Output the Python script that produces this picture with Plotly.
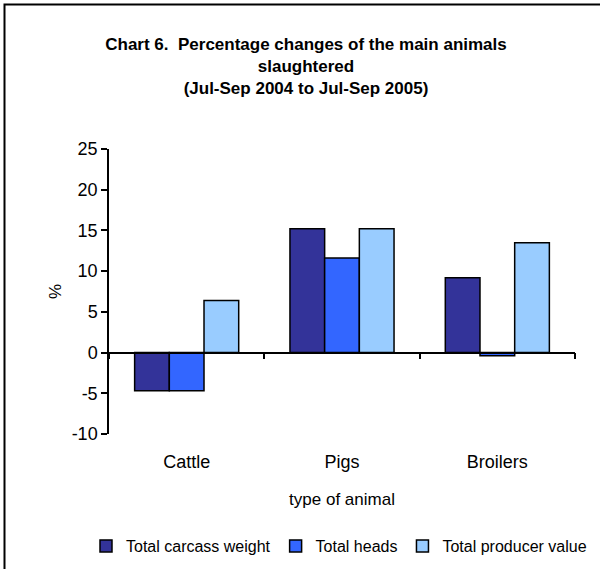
import plotly.graph_objects as go

categories = ["Cattle", "Pigs", "Broilers"]
carcass_weight = [-4.7, 15.2, 9.2]
total_heads = [-4.7, 11.6, -0.4]
producer_value = [6.4, 15.2, 13.5]
series_names = ["Total carcass weight", "Total heads", "Total producer value"]
colors = ["#333399", "#3366FF", "#99CCFF"]
y_ticks = [-10, -5, 0, 5, 10, 15, 20, 25]
y_tick_labels = ["-10", "-5", "0", "5", "10", "15", "20", "25"]

FONT = "Liberation Sans, Arial, sans-serif"

fig = go.Figure()
for name, vals, col in zip(series_names, [carcass_weight, total_heads, producer_value], colors):
    fig.add_trace(go.Bar(
        x=categories, y=vals, name=name,
        marker=dict(color=col, line=dict(color="black", width=1.5)),
    ))

ymin, ymax = -10, 25
fig.update_layout(
    width=600, height=569,
    paper_bgcolor="white", plot_bgcolor="white",
    margin=dict(l=109, r=25, t=149, b=135, autoexpand=False),
    barmode="group", bargap=0.33, bargroupgap=0,
    font=dict(family=FONT, size=17, color="black"),
    title=dict(
        text="<b>Chart 6.  Percentage changes of the main animals<br>slaughtered<br>(Jul-Sep 2004 to Jul-Sep 2005)</b>",
        x=0.51, xref="container", xanchor="center",
        y=1 - 50 / 569, yref="container", yanchor="top",
        font=dict(family=FONT, size=17, color="black"),
    ),
    xaxis=dict(
        type="category", categoryarray=categories,
        anchor="free", position=(0 - ymin) / (ymax - ymin),
        showline=True, linecolor="black", linewidth=1.5,
        ticks="outside", tickson="boundaries", ticklen=6, tickcolor="black", tickwidth=1.5,
        ticklabelstandoff=93,
        showgrid=False, zeroline=False,
        title=dict(text="type of animal", standoff=21, font=dict(size=17)),
        tickfont=dict(size=18),
        automargin=False,
    ),
    yaxis=dict(
        range=[ymin, ymax], tickvals=y_ticks, ticktext=y_tick_labels,
        showline=True, linecolor="black", linewidth=1.5,
        ticks="outside", ticklen=6, tickcolor="black", tickwidth=1.5,
        showgrid=False, zeroline=False,
        title=dict(text="%", standoff=6, font=dict(size=17)),
        tickfont=dict(size=18),
        automargin=False,
    ),
    showlegend=True,
    legend=dict(
        orientation="h", x=(86 - 109) / 466, xanchor="left", xref="paper",
        y=-(546 - 434) / 285, yanchor="middle", yref="paper",
        font=dict(size=16), itemwidth=30, tracegroupgap=0,
    ),
    shapes=[dict(
        type="rect", xref="paper", yref="paper",
        x0=(4.5 - 109) / 466, x1=1.3, y0=-1.0, y1=(434 - 4.5) / 285,
        line=dict(color="black", width=2), fillcolor="rgba(0,0,0,0)", layer="below",
    )],
)

fig.write_html("out.html", config={"displayModeBar": False},
               post_script="document.body.style.margin='0';")
